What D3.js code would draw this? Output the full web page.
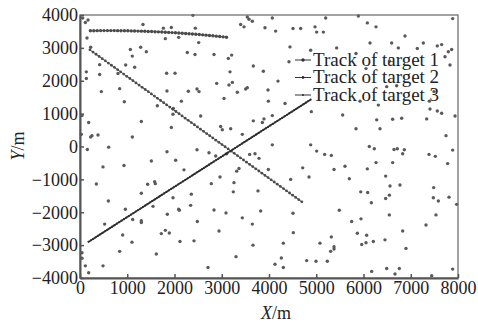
<!DOCTYPE html>
<html>
<head>
<meta charset="utf-8">
<script src="https://cdn.jsdelivr.net/npm/d3@7"></script>
<style>
  body { margin: 0; background: #fff; }
  svg text { font-family: "Liberation Serif", "Times New Roman", serif; fill: #222; }
</style>
</head>
<body>
<div id="chart"></div>
<script>
// axis ticks
const xTicks = [0, 1000, 2000, 3000, 4000, 5000, 6000, 7000, 8000];
const yTicks = [-4000, -3000, -2000, -1000, 0, 1000, 2000, 3000, 4000];
const legendLabels = ['Track of target 1', 'Track of target 2', 'Track of target 3'];

// target tracks
const track1X = [220, 292, 364, 436, 508, 580, 652, 724, 796, 868, 940, 1012, 1084, 1156, 1228, 1300, 1372, 1444, 1516, 1588,
  1660, 1732, 1804, 1876, 1948, 2020, 2092, 2164, 2236, 2308, 2380, 2452, 2524, 2596, 2668, 2740, 2812, 2884, 2956, 3028, 3100];
const track1Y = [3520, 3522, 3524, 3525, 3526, 3526, 3526, 3525, 3524, 3523, 3521, 3519, 3517, 3514, 3511, 3508, 3504, 3500, 3496, 3492,
  3487, 3482, 3477, 3471, 3465, 3459, 3452, 3445, 3438, 3430, 3422, 3414, 3405, 3396, 3387, 3377, 3367, 3357, 3346, 3335, 3324];

const track2X = [210, 275, 340, 405, 470, 535, 600, 665, 730, 795, 860, 925, 990, 1055, 1120, 1185, 1250, 1315, 1380, 1445,
  1510, 1575, 1640, 1705, 1770, 1835, 1900, 1965, 2030, 2095, 2160, 2225, 2290, 2355, 2420, 2485, 2550, 2615, 2680, 2745,
  2810, 2875, 2940, 3005, 3070, 3135, 3200, 3265, 3330, 3395, 3460, 3525, 3590, 3655, 3720, 3785, 3850, 3915, 3980, 4045,
  4110, 4175, 4240, 4305, 4370, 4435, 4500, 4565, 4630, 4695];
const track2Y = [2940, 2873, 2806, 2739, 2672, 2605, 2538, 2471, 2404, 2337, 2270, 2203, 2136, 2069, 2002, 1935, 1868, 1801, 1734, 1667,
  1600, 1533, 1466, 1399, 1332, 1265, 1198, 1131, 1064, 997, 930, 863, 796, 729, 662, 595, 528, 461, 394, 327,
  260, 193, 126, 59, -8, -75, -142, -209, -276, -343, -410, -477, -544, -611, -678, -745, -812, -879, -946, -1013,
  -1080, -1147, -1214, -1281, -1348, -1415, -1482, -1549, -1616, -1683];

const track3X = [180, 230, 280, 330, 380, 430, 480, 530, 580, 630, 680, 730, 780, 830, 880, 930, 980, 1030, 1080, 1130,
  1180, 1230, 1280, 1330, 1380, 1430, 1480, 1530, 1580, 1630, 1680, 1730, 1780, 1830, 1880, 1930, 1980, 2030, 2080, 2130,
  2180, 2230, 2280, 2330, 2380, 2430, 2480, 2530, 2580, 2630, 2680, 2730, 2780, 2830, 2880, 2930, 2980, 3030, 3080, 3130,
  3180, 3230, 3280, 3330, 3380, 3430, 3480, 3530, 3580, 3630, 3680, 3730, 3780, 3830, 3880, 3930, 3980, 4030, 4080, 4130,
  4180, 4230, 4280, 4330, 4380, 4430, 4480, 4530, 4580, 4630, 4680, 4730, 4780, 4830, 4880];
const track3Y = [-2900, -2854, -2808, -2762, -2716, -2670, -2624, -2578, -2532, -2486, -2440, -2394, -2348, -2302, -2256, -2210, -2164, -2118, -2072, -2026,
  -1980, -1934, -1888, -1842, -1796, -1750, -1704, -1658, -1612, -1566, -1520, -1474, -1428, -1382, -1336, -1290, -1244, -1198, -1152, -1106,
  -1060, -1014, -968, -922, -876, -830, -784, -738, -692, -646, -600, -554, -508, -462, -416, -370, -324, -278, -232, -186,
  -140, -94, -48, -2, 44, 90, 136, 182, 228, 274, 320, 366, 412, 458, 504, 550, 596, 642, 688, 734,
  780, 826, 872, 918, 964, 1010, 1056, 1102, 1148, 1194, 1240, 1286, 1332, 1378, 1424];

// clutter measurements [x, y]
const clutter = [
  [57, 3910], [113, 3770], [170, 3850], [2390, 3990], [148, 3300], [226, 3020], [1333, 3710], [1764, 3600], [1933, 3620], [1806, 3280],
  [2088, 3320], [2441, 3600], [2512, 3160], [1065, 2950], [1107, 2750], [1284, 3020], [1404, 2880], [2271, 2860], [2434, 2800], [416, 2490],
  [134, 2270], [134, 2070], [416, 2190], [967, 2480], [1157, 2410], [804, 2220], [1834, 2230], [2011, 2230], [452, 1670], [839, 1760],
  [938, 1360], [1841, 1690], [2293, 1680], [2476, 1750], [2519, 1670], [1637, 1240], [2145, 1380], [1975, 1160], [42, 940], [1968, 980],
  [2554, 930], [183, 730], [1298, 760], [1933, 580], [28, 370], [226, 290], [254, 330], [381, 350], [1107, 290], [607, -20],
  [3541, 3940], [3577, 3870], [3647, 3810], [4070, 3910], [5200, 3910], [3400, 3710], [3471, 3640], [3915, 3610], [4141, 3510], [4508, 3590],
  [4670, 3590], [4974, 3640], [5009, 3480], [5150, 3480], [4444, 3030], [4882, 2930], [4423, 2580], [2836, 2800], [3139, 2680], [3210, 2780],
  [3668, 2450], [3880, 2290], [3175, 2270], [2893, 1920], [3153, 1870], [3224, 1950], [3330, 1650], [3506, 1750], [3541, 1790], [3979, 1720],
  [4190, 1990], [3048, 1460], [3986, 1380], [4339, 1310], [4896, 1060], [3668, 780], [3859, 730], [3894, 840], [4070, 940], [2977, 610],
  [3012, 510], [3189, 540], [3435, 370], [4070, 50], [4882, 50],
  [5891, 3970], [6081, 3760], [6265, 3640], [7887, 3890], [6878, 3360], [5432, 3000], [6138, 3150], [6596, 3150], [6737, 3000], [7139, 2980],
  [7266, 3150], [7562, 3060], [7654, 3100], [7795, 2880], [7866, 2950], [5841, 2830], [6547, 2600], [7725, 2730], [7831, 2480], [6053, 2370],
  [6491, 1820], [6702, 1850], [5926, 1380], [6314, 1260], [7393, 1380], [7492, 1670], [7407, 1140], [7562, 1080], [7654, 1010], [5559, 960],
  [6279, 810], [6617, 830], [6808, 860], [7337, 840], [7937, 930], [5841, 540], [6349, 540], [7746, 330], [6123, 0],
  [155, -90], [487, -620], [931, -580], [1841, -160], [2025, -420], [2476, -100], [1510, -440], [2201, -710], [346, -1140], [600, -1660],
  [1298, -1420], [1432, -1150], [1580, -1070], [1594, -1130], [1968, -1560], [2356, -1450], [960, -1910], [1545, -1820], [1848, -2060], [2088, -1910],
  [2102, -1940], [2342, -1790], [522, -2360], [1115, -2220], [1298, -2260], [1298, -2310], [903, -2690], [1100, -2910], [1721, -2650], [1806, -2550],
  [1890, -2630], [2116, -2890], [2483, -2280], [2413, -2870], [42, -3230], [42, -3400], [113, -3630], [183, -3840], [487, -3630], [839, -3190],
  [1615, -3270],
  [2730, -190], [2872, -290], [3104, -220], [3591, -240], [3704, -220], [3788, -360], [5009, -140], [5178, -240], [5319, -270], [3365, -670],
  [3316, -750], [2963, -930], [2779, -1130], [3259, -1100], [3245, -1380], [3986, -700], [4713, -650], [4847, -930], [4459, -1000], [3767, -1350],
  [2836, -1930], [3090, -2020], [3435, -2170], [3824, -1960], [3647, -2360], [4508, -2030], [2942, -2570], [4515, -2620], [3661, -3000], [4303, -2940],
  [5079, -2940], [5305, -3190], [5319, -2750], [3302, -3350], [4127, -3580], [4261, -3390], [4303, -3680], [4797, -3470], [4995, -3490], [5234, -3490],
  [2709, -3680],
  [6229, -70], [6646, -90], [6716, -70], [6829, -220], [6864, -100], [7386, -240], [7520, -300], [7887, -110], [5376, -700], [5608, -600],
  [6081, -680], [6265, -490], [6617, -490], [7781, -520], [5700, -980], [6469, -900], [6561, -1200], [6772, -1170], [5941, -1380], [6088, -1400],
  [6166, -1710], [6469, -1580], [6547, -1480], [7485, -1250], [7478, -1560], [7584, -1660], [7810, -1540], [7971, -1760], [5488, -1940], [6547, -2080],
  [7534, -2080], [5750, -2280], [5947, -2200], [7323, -2390], [6829, -2570], [5869, -2640], [6067, -2700], [6455, -2840], [6208, -2890], [6053, -2930],
  [5962, -2980], [5376, -3050], [5376, -3120], [6899, -3100], [6173, -3800], [6491, -3710], [6667, -3880], [6758, -3710], [7443, -3930], [7887, -3730]
];

const [w, h] = [478, 323];
const m = { left: 80, right: 20, top: 15, bottom: 45 };

const svg = d3.select('#chart').append('svg')
  .attr('width', w)
  .attr('height', h);

const xScale = d3.scaleLinear().domain([0, 8000]).range([m.left, w - m.right]);
const yScale = d3.scaleLinear().domain([-4000, 4000]).range([h - m.bottom, m.top]);

// clutter
svg.append('g')
  .selectAll('circle')
  .data(clutter)
  .enter()
  .append('circle')
  .attr('cx', d => xScale(d[0]))
  .attr('cy', d => yScale(d[1]))
  .attr('r', 1.7)
  .attr('fill', '#5a5a5a');

// tracks
const tracks = [
  { xs: track1X, ys: track1Y, r: 1.7, lw: 0.8, c: '#4a4a4a' },
  { xs: track2X, ys: track2Y, r: 1.4, lw: 1, c: '#4a4a4a' },
  { xs: track3X, ys: track3Y, r: 1.1, lw: 1.6, c: '#2e2e2e' }
];
const line = d3.line().x(d => xScale(d[0])).y(d => yScale(d[1]));
tracks.forEach(t => {
  const pts = t.xs.map((x, i) => [x, t.ys[i]]);
  svg.append('path')
    .attr('d', line(pts))
    .attr('fill', 'none')
    .attr('stroke', t.c)
    .attr('stroke-width', t.lw);
  svg.append('g')
    .selectAll('circle')
    .data(pts)
    .enter()
    .append('circle')
    .attr('cx', d => xScale(d[0]))
    .attr('cy', d => yScale(d[1]))
    .attr('r', t.r)
    .attr('fill', t.c);
});

// frame
svg.append('rect')
  .attr('x', xScale(0)).attr('y', yScale(4000))
  .attr('width', xScale(8000) - xScale(0))
  .attr('height', yScale(-4000) - yScale(4000))
  .attr('fill', 'none')
  .attr('stroke', '#666')
  .attr('stroke-width', 1.2);

// axes, ticks inward
const xAxis = d3.axisBottom(xScale).tickValues(xTicks).tickFormat(d3.format('d'))
  .tickSizeInner(-4).tickSizeOuter(0).tickPadding(3);
const yAxis = d3.axisLeft(yScale).tickValues(yTicks).tickFormat(d3.format('d'))
  .tickSizeInner(-4).tickSizeOuter(0).tickPadding(2);

const gx = svg.append('g')
  .attr('transform', `translate(0, ${h - m.bottom})`)
  .call(xAxis);
const gy = svg.append('g')
  .attr('transform', `translate(${m.left}, 0)`)
  .call(yAxis);
[gx, gy].forEach(g => {
  g.select('.domain').attr('stroke', '#555').attr('stroke-width', 2);
  g.selectAll('.tick line').attr('stroke', '#555').attr('stroke-width', 1.5);
  g.selectAll('.tick text')
    .attr('font-family', '"Liberation Serif", "Times New Roman", serif')
    .attr('font-size', 18)
    .attr('fill', '#222');
});

// axis titles
const xt = svg.append('text')
  .attr('x', 276).attr('y', 319)
  .attr('text-anchor', 'middle')
  .attr('font-size', 18);
xt.append('tspan').attr('font-style', 'italic').text('X');
xt.append('tspan').text('/m');

const yt = svg.append('text')
  .attr('transform', 'translate(24, 146) rotate(-90)')
  .attr('text-anchor', 'middle')
  .attr('font-size', 18);
yt.append('tspan').attr('font-style', 'italic').text('Y');
yt.append('tspan').text('/m');

// legend
const legend = svg.append('g').attr('transform', 'translate(295, 60)');
legendLabels.forEach((label, i) => {
  const g = legend.append('g').attr('transform', `translate(0, ${i * 17.5})`);
  g.append('line')
    .attr('x1', 0).attr('x2', 16).attr('y1', 0).attr('y2', 0)
    .attr('stroke', '#333').attr('stroke-width', 1);
  g.append('circle').attr('cx', 8).attr('cy', 0).attr('r', tracks[i].r).attr('fill', '#333');
  g.append('text')
    .attr('x', 18).attr('y', 5.5)
    .attr('font-size', 19)
    .text(label);
});
</script>
</body>
</html>
